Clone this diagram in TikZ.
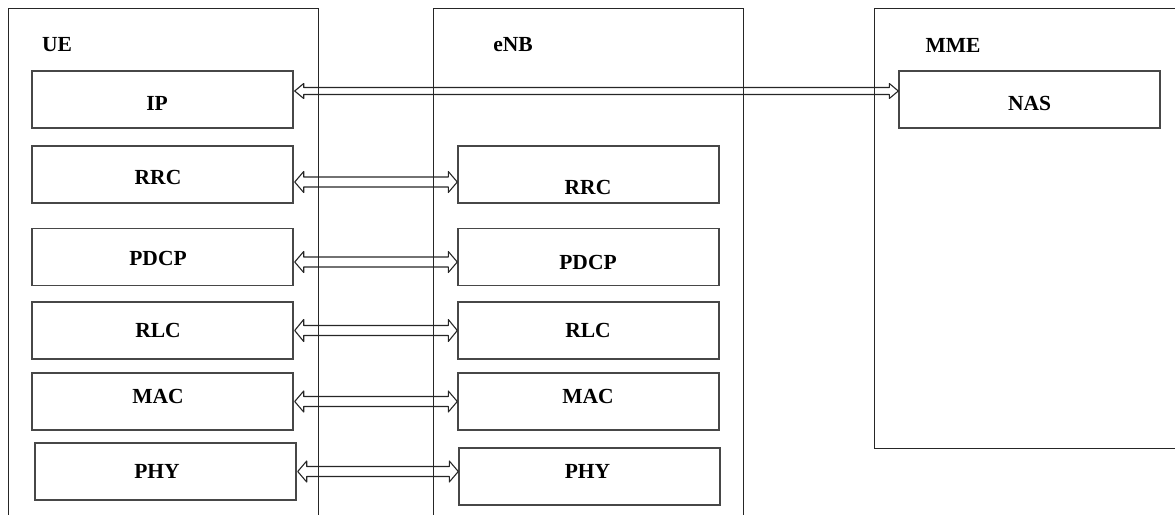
\documentclass[tikz,border=0pt]{standalone}
\usepackage{fontspec}
\setmainfont{Liberation Serif}
\usetikzlibrary{calc}
% hollow two-headed arrow between two points on one horizontal line:
% #1 left tip, #2 right tip, #3 half shaft width, #4 half head height
\newcommand{\peerlink}[4]{%
  \draw[link] (#1) -- ++(9,-#4) -- ++(0,{#4-#3}) -- ($(#2)+(-9,-#3)$)
    -- ++(0,{#3-#4}) -- (#2) -- ++(-9,#4) -- ++(0,{#3-#4})
    -- ($(#1)+(9,#3)$) -- ++(0,{#4-#3}) -- cycle;}
\begin{document}
\begin{tikzpicture}[x=1pt,y=-1pt,
  container/.style={draw=black!85, line width=0.9pt, inner sep=0pt, anchor=north west},
  layer/.style={draw=black!72, line width=1.4pt, inner sep=0pt, minimum height=57pt, minimum width=261pt},
  lbl/.style={font=\fontsize{21.5}{24}\selectfont\bfseries, inner sep=0pt},
  link/.style={draw=black!85, line width=1.1pt, line join=round}]
  \useasboundingbox (0,0) rectangle (1175,514);
  \clip (0,0) rectangle (1175,514);

  % entities
  \node[container, minimum width=310pt, minimum height=540pt] (ue)  at (7.5,7.5) {};
  \node[container, minimum width=310pt, minimum height=540pt] (enb) at (433,7.5) {};
  \node[container, minimum width=340pt, minimum height=440.5pt] (mme) at (874,7.5) {};
  \node[lbl] (uet)  at (57,45)  {UE};
  \node[lbl] (enbt) at (513,45) {eNB};
  \node[lbl] (mmet) at (953,45) {MME};

  % UE protocol stack
  \node[layer] (ueip)   at (162.5,99.5)  {};
  \node[layer] (uerrc)  at (162.5,174.5) {};
  \node[layer] (uepdcp) at (162.5,257)   {};
  \node[layer] (uerlc)  at (162.5,330.5) {};
  \node[layer] (uemac)  at (162.5,401.5) {};
  \node[layer] (uephy)  at (165.5,471.5) {};
  \node[lbl] at (157,103) {IP};
  \node[lbl] at (158,177) {RRC};
  \node[lbl] at (158,258) {PDCP};
  \node[lbl] at (158,330) {RLC};
  \node[lbl] at (158,396) {MAC};
  \node[lbl] at (157,471) {PHY};

  % eNB protocol stack
  \node[layer] (enbrrc)  at (588.5,174.5) {};
  \node[layer] (enbpdcp) at (588.5,257)   {};
  \node[layer] (enbrlc)  at (588.5,330.5) {};
  \node[layer] (enbmac)  at (588.5,401.5) {};
  \node[layer] (enbphy)  at (589.5,476.5) {};
  \node[lbl] at (588,187) {RRC};
  \node[lbl] at (588,262) {PDCP};
  \node[lbl] at (588,330) {RLC};
  \node[lbl] at (588,396) {MAC};
  \node[lbl] at (587.5,471) {PHY};

  % MME
  \node[layer] (nas) at (1029.5,99.5) {};
  \node[lbl] at (1029.5,103) {NAS};

  % peer links
  \coordinate (aip)   at ([yshift=8.5pt,xshift=1pt]ueip.east);
  \coordinate (arrc)  at ([yshift=-7.5pt,xshift=1pt]uerrc.east);
  \coordinate (apdcp) at ([yshift=-5pt,xshift=1pt]uepdcp.east);
  \coordinate (arlc)  at ([xshift=1pt]uerlc.east);
  \coordinate (amac)  at ([xshift=1pt]uemac.east);
  \coordinate (aphy)  at ([xshift=1pt]uephy.east);
  \coordinate (bip)   at (nas.west |- aip);
  \coordinate (brrc)  at (enbrrc.west |- arrc);
  \coordinate (bpdcp) at (enbpdcp.west |- apdcp);
  \coordinate (brlc)  at (enbrlc.west |- arlc);
  \coordinate (bmac)  at (enbmac.west |- amac);
  \coordinate (bphy)  at (enbphy.west |- aphy);
  \peerlink{aip}{bip}{3.5}{7.5}
  \peerlink{arrc}{brrc}{5}{10.5}
  \peerlink{apdcp}{bpdcp}{5}{10.5}
  \peerlink{arlc}{brlc}{5}{11}
  \peerlink{amac}{bmac}{5}{10.5}
  \peerlink{aphy}{bphy}{5}{10.5}
\end{tikzpicture}
\end{document}
